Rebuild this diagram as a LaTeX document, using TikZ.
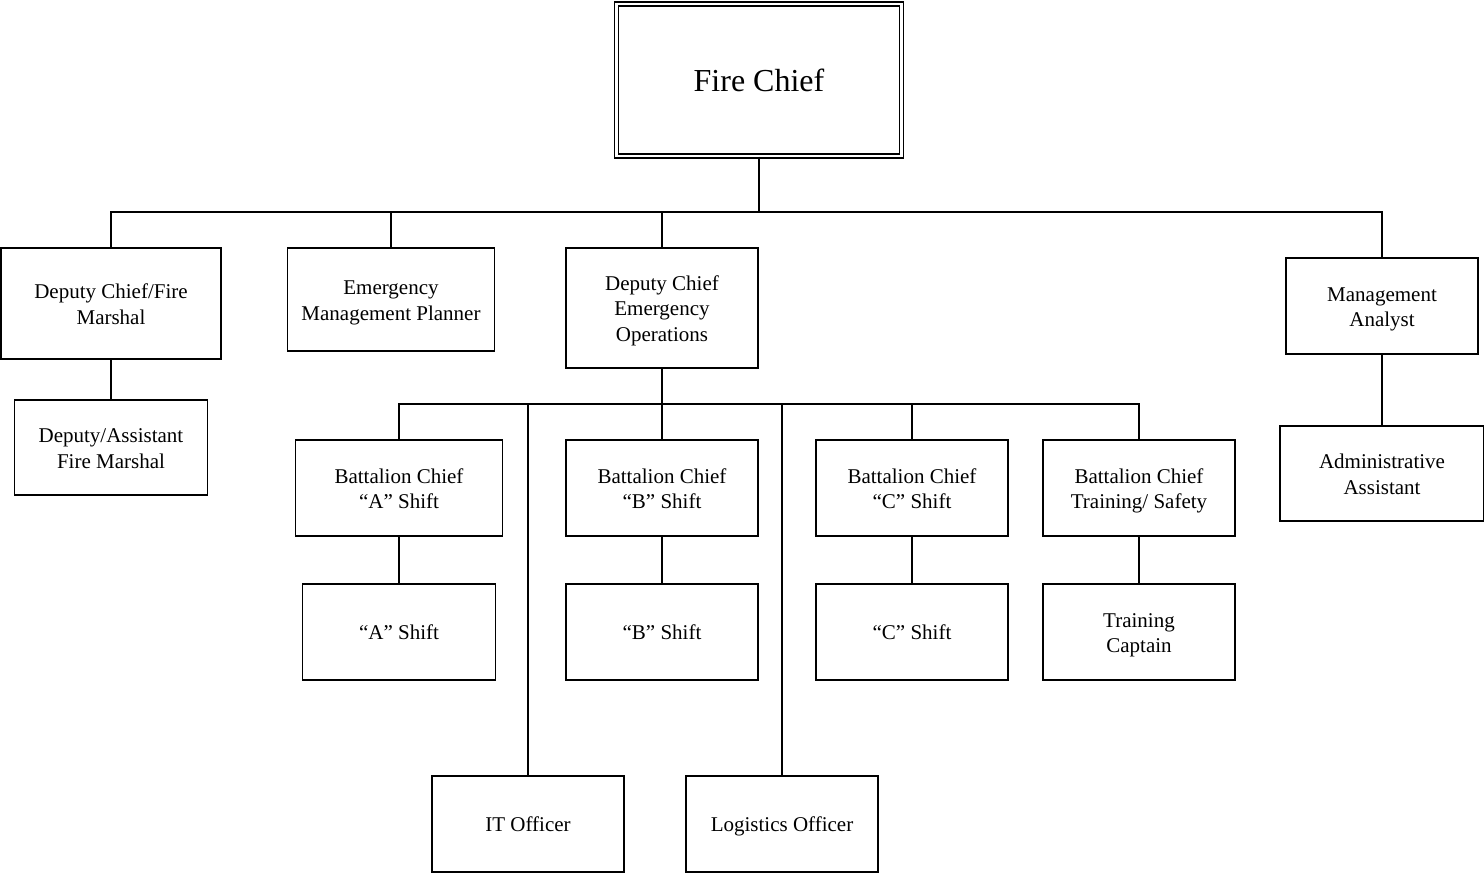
\documentclass[tikz,border=0pt]{standalone}
\usepackage{fontspec}
\setmainfont{Liberation Serif}
% fixed height for the first text line of a box
\newcommand\leadline{\rule{0pt}{23.5pt}}
\begin{document}
\begin{tikzpicture}[x=1pt,y=-1pt,
  box/.style={draw, line width=1.4pt, align=center, inner sep=0pt,
    font=\fontsize{21}{25.5}\selectfont, minimum width=#1,
    execute at end node=\strut},
  box/.default=192pt,
  link/.style={line width=1.4pt},
  stem/.style={line width=2.8pt}]
\useasboundingbox (0,0) rectangle (1484,874);

% top level
\node[draw, double, double distance=2.6pt, line width=1.3pt, inner sep=0pt,
  minimum width=285pt, minimum height=152pt,
  font=\fontsize{32}{38}\selectfont] (fc) at (759,80) {Fire Chief};

% second level
\node[box=220pt, minimum height=111pt] (dcfm) at (111,303.5) {\leadline Deputy Chief/Fire\\Marshal};
\node[box=207pt, minimum height=103pt] (emp) at (391,299.5) {\leadline Emergency\\Management Planner};
\node[box=192pt, minimum height=120pt] (dceo) at (662,308) {\leadline Deputy Chief\\Emergency\\Operations};
\node[box=192pt, minimum height=96pt] (ma) at (1382,306) {\leadline Management\\Analyst};

% below second level
\node[box=193pt, minimum height=95pt] (dafm) at (111,447.5) {\leadline Deputy/Assistant\\Fire Marshal};
\node[box=204pt, minimum height=95pt] (aa) at (1382,473.5) {\leadline Administrative\\Assistant};

% battalion chiefs
\node[box=207pt, minimum height=96pt] (bca) at (399,488) {\leadline Battalion Chief\\“A” Shift};
\node[box=192pt, minimum height=96pt] (bcb) at (662,488) {\leadline Battalion Chief\\“B” Shift};
\node[box=192pt, minimum height=96pt] (bcc) at (912,488) {\leadline Battalion Chief\\“C” Shift};
\node[box=192pt, minimum height=96pt] (bct) at (1139,488) {\leadline Battalion Chief\\Training/ Safety};

% shifts
\node[box=193pt, minimum height=96pt] (sa) at (399,632) {\leadline “A” Shift};
\node[box=192pt, minimum height=96pt] (sb) at (662,632) {\leadline “B” Shift};
\node[box=192pt, minimum height=96pt] (sc) at (912,632) {\leadline “C” Shift};
\node[box=192pt, minimum height=96pt] (tc) at (1139,632) {\leadline Training\\Captain};

% officers
\node[box=192pt, minimum height=96pt] (it) at (528,824) {\leadline IT Officer};
\node[box=192pt, minimum height=96pt] (lo) at (782,824) {\leadline Logistics Officer};

% connectors
\coordinate (bus1) at (759,212);
\coordinate (bus2) at (662,404);

\draw[link] (dcfm.north) |- (bus1);
\draw[link] (emp.north) |- (bus1);
\draw[link] (dceo.north) |- (bus1);
\draw[link] (ma.north) |- (bus1);
\draw[stem] (fc.south) -- (bus1);

\draw[link] (dcfm.south) -- (dafm.north);
\draw[link] (ma.south) -- (aa.north);

\draw[link] (bca.north) |- (bus2);
\draw[link] (bcb.north) -- (bus2);
\draw[link] (bcc.north) |- (bus2);
\draw[link] (bct.north) |- (bus2);
\draw[link] (it.north) |- (bus2);
\draw[link] (lo.north) |- (bus2);
\draw[stem] (dceo.south) -- (bus2);

\draw[link] (bca.south) -- (sa.north);
\draw[link] (bcb.south) -- (sb.north);
\draw[link] (bcc.south) -- (sc.north);
\draw[link] (bct.south) -- (tc.north);
\end{tikzpicture}
\end{document}
